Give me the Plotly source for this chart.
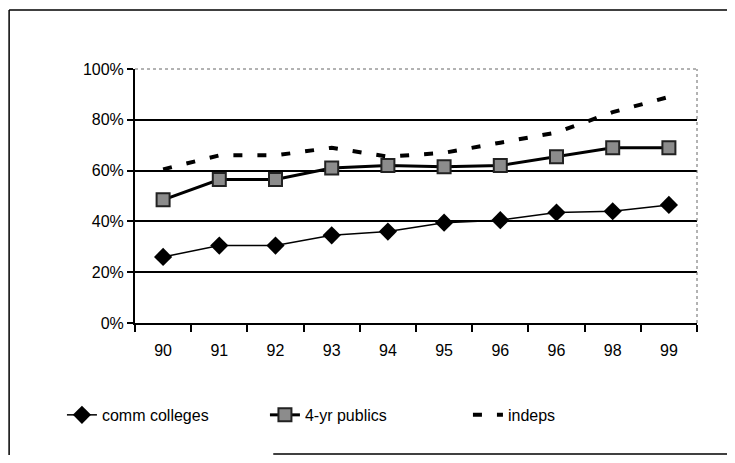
import plotly.graph_objects as go

# Data (share, %)
year_labels = ["90", "91", "92", "93", "94", "95", "96", "96", "98", "99"]
comm_colleges = [26, 30.5, 30.5, 34.5, 36, 39.5, 40.5, 43.5, 44, 46.5]
four_yr_publics = [48.5, 56.5, 56.5, 61, 62, 61.5, 62, 65.5, 69, 69]
indeps = [60.5, 66, 66, 69, 65.5, 67, 71, 75, 83, 89]

x_pos = list(range(len(year_labels)))
font_family = "Liberation Sans, Arial, sans-serif"

fig = go.Figure()

fig.add_trace(go.Scatter(
    x=x_pos, y=comm_colleges, name="comm colleges",
    mode="lines+markers",
    line=dict(color="black", width=1.5),
    marker=dict(symbol="diamond", size=14, color="black"),
))

fig.add_trace(go.Scatter(
    x=x_pos, y=four_yr_publics, name="4-yr publics",
    mode="lines+markers",
    line=dict(color="black", width=3),
    marker=dict(symbol="square", size=13, color="#8c8c8c",
                line=dict(color="#222222", width=2)),
))

fig.add_trace(go.Scatter(
    x=x_pos, y=indeps, name="indeps",
    mode="lines",
    line=dict(color="black", width=4, dash="9px,15px"),
))

# outer chart frame (scanned page border): left, top, part of bottom
frame = dict(color="black", width=1.5)
fig.add_shape(type="line", xref="paper", yref="paper",
              x0=-0.224, x1=-0.224, y0=-0.52, y1=1.232, line=frame)
fig.add_shape(type="line", xref="paper", yref="paper",
              x0=-0.224, x1=1.1, y0=1.232, y1=1.232, line=frame)
fig.add_shape(type="line", xref="paper", yref="paper",
              x0=0.246, x1=1.1, y0=-0.516, y1=-0.516, line=frame)

# dotted plot-area border on top and right
fig.add_shape(type="line", xref="paper", yref="paper",
              x0=0, x1=1, y0=1, y1=1,
              line=dict(color="#666666", width=1, dash="dot"))
fig.add_shape(type="line", xref="paper", yref="paper",
              x0=1, x1=1, y0=0, y1=1,
              line=dict(color="#666666", width=1, dash="dot"))

fig.update_layout(
    width=719, height=447,
    margin=dict(l=127, r=30, t=61, b=132),
    plot_bgcolor="white", paper_bgcolor="white",
    font=dict(family=font_family, size=16, color="black"),
    showlegend=True,
    legend=dict(orientation="h", x=-0.13, xanchor="left",
                y=-0.362, yanchor="middle",
                font=dict(size=16),
                entrywidth=158, entrywidthmode="pixels",
                traceorder="normal"),
    xaxis=dict(
        range=[-0.5, len(year_labels) - 0.5],
        tickvals=x_pos, ticktext=year_labels,
        ticks="", showgrid=False, zeroline=False,
        showline=True, linecolor="black", linewidth=2,
        minor=dict(ticks="outside", tick0=-0.5, dtick=1,
                   ticklen=7, tickcolor="black", tickwidth=2,
                   showgrid=False),
        ticklabelstandoff=12,
    ),
    yaxis=dict(
        range=[0, 100], dtick=20, ticksuffix="%",
        ticks="outside", ticklen=6, tickcolor="black", tickwidth=2,
        showgrid=True, gridcolor="black", gridwidth=1.5,
        zeroline=False,
        showline=True, linecolor="black", linewidth=2,
    ),
)

fig.write_html("out.html")
